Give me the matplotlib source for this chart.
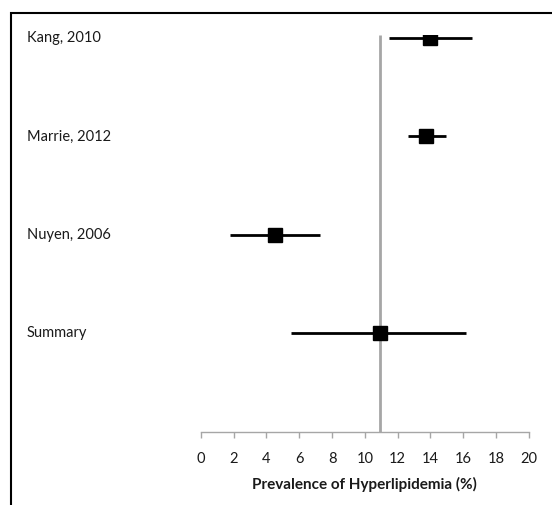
import matplotlib
matplotlib.use("Agg")
import matplotlib.pyplot as plt
import matplotlib.transforms as mtransforms
from matplotlib.patches import Rectangle

plt.rcParams['font.family'] = ['Lato', 'DejaVu Sans']

# study estimates with 95% CI (prevalence, %)
studies = ['Kang, 2010', 'Marrie, 2012', 'Nuyen, 2006', 'Summary']
estimate = [14.0, 13.75, 4.5, 10.9]
ci_low = [11.5, 12.6, 1.8, 5.5]
ci_high = [16.55, 14.95, 7.25, 16.15]
rows = [4, 3, 2, 1]
xticks = list(range(0, 21, 2))

fig = plt.figure(figsize=(5.52, 5.05), dpi=100)
ax = fig.add_axes([0.3636, 0.1455, 0.5947, 0.785])

# summary reference line
ax.plot([estimate[3], estimate[3]], [0, 4.03], color='#a6a6a6', lw=2, zorder=1,
        solid_capstyle='butt')

for y, est, lo, hi in zip(rows, estimate, ci_low, ci_high):
    ax.plot([lo, hi], [y, y], color='black', lw=2, zorder=2, solid_capstyle='butt')
    ax.plot(est, y, marker='s', ms=10.5, color='black', zorder=3)

ax.set_xlim(0, 20)
ax.set_ylim(0, 4.03)
ax.set_xticks(xticks)
ax.set_xticklabels([str(t) for t in xticks], fontsize=10.5)
ax.set_yticks([])
for side in ['top', 'right', 'left']:
    ax.spines[side].set_visible(False)
ax.spines['bottom'].set_color('#a6a6a6')
ax.spines['bottom'].set_linewidth(1)
ax.tick_params(axis='x', direction='out', length=4.5, width=1, color='#a6a6a6',
               pad=10, labelcolor='#1a1a1a')
ax.set_xlabel('Prevalence of Hyperlipidemia (%)', fontsize=11, fontweight='bold',
              color='#1a1a1a', labelpad=8)

trans = mtransforms.blended_transform_factory(fig.transFigure, ax.transData)
for y, name in zip(rows, studies):
    ax.text(27 / 552, y, name, transform=trans, ha='left', va='center',
            fontsize=10.5, color='#1a1a1a')

# outer frame (runs off the right and bottom edges)
fig.patches.append(Rectangle((11 / 552, -0.1), 1.2, (505 - 13) / 505 + 0.1,
                             transform=fig.transFigure, fill=False,
                             edgecolor='black', lw=1.5))

fig.savefig('out.png', dpi=100)
